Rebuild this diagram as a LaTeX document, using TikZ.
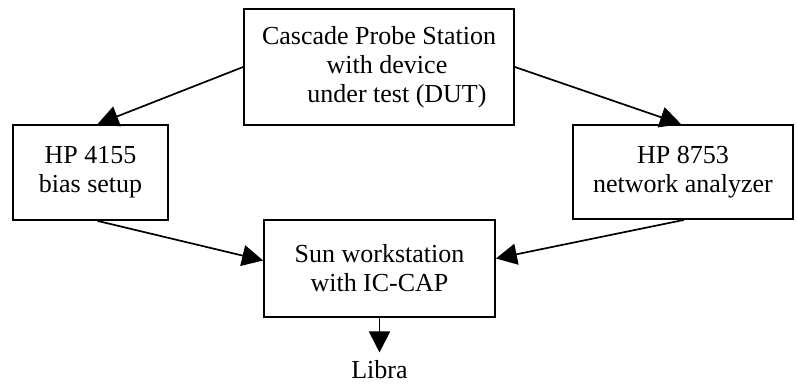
\documentclass[tikz,border=0pt]{standalone}
\usepackage{fontspec}
\setmainfont{Liberation Serif}
\usetikzlibrary{arrows.meta}
\begin{document}
\begin{tikzpicture}[x=1pt,y=-1pt,
  box/.style={draw, line width=1.8pt, rectangle, align=center, inner sep=0pt,
    font=\fontsize{26}{29}\selectfont},
  conn/.style={line width=1.7pt, -{Triangle[length=21pt,width=21pt]}},
  lbl/.style={font=\fontsize{26}{29}\selectfont, inner sep=8pt, outer sep=0pt}]
\useasboundingbox (0,0) rectangle (797,383);
\node[box, minimum width=270pt, minimum height=116pt] (top) at (379,67)
  {Cascade Probe Station\\ \hspace*{16pt}with device\\ \hspace*{36pt}under test (DUT)};
\node[box, minimum width=155pt, minimum height=95pt] (left) at (90.5,172.5)
  {HP 4155\\ bias setup};
\node[box, minimum width=220pt, minimum height=94pt] (right) at (683,172)
  {HP 8753\\ network analyzer};
\node[box, minimum width=231pt, minimum height=97pt] (bot) at (379.5,268.5)
  {Sun workstation\\ with IC-CAP};
\node[lbl, anchor=base] (libra) at (379.5,378.5) {Libra};
\draw[conn] (top.west) -- ([xshift=7pt]left.north);
\draw[conn] (top.east) -- ([xshift=-2pt]right.north);
\draw[conn] ([xshift=7pt]left.south) -- ([yshift=8pt]bot.west);
\draw[conn] ([xshift=1pt]right.south) -- ([yshift=10pt]bot.east);
\draw[conn] (bot.south) -- (libra.north);
\end{tikzpicture}
\end{document}
